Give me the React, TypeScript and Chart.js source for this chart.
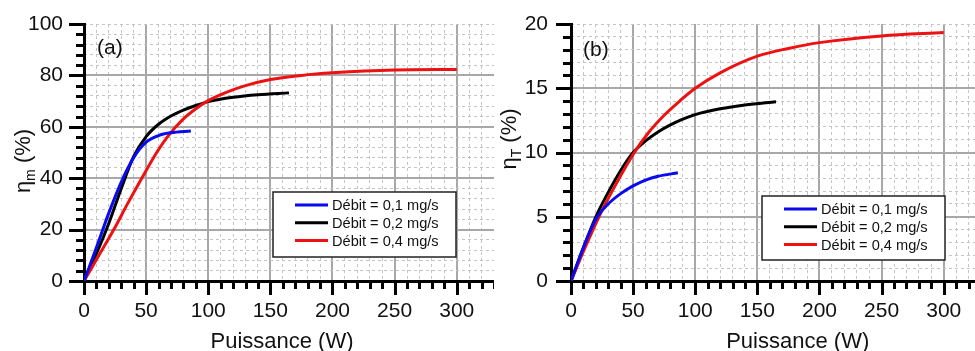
import React, { useEffect, useRef } from "react";
import { Chart, registerables } from "chart.js";

Chart.register(...registerables);

// ---------- Data ----------
const seriesLabels = ["Débit = 0,1 mg/s", "Débit = 0,2 mg/s", "Débit = 0,4 mg/s"];

const xMajorTicks = [0, 50, 100, 150, 200, 250, 300];
const xMinorTicks = [0, 10, 20, 30, 40, 50, 60, 70, 80, 90, 100, 110, 120, 130, 140, 150, 160, 170, 180, 190, 200, 210, 220, 230, 240, 250, 260, 270, 280, 290, 300, 310, 320, 330];

const yMajorTicksA = [0, 20, 40, 60, 80, 100];
const yMinorTicksA = [0, 4, 8, 12, 16, 20, 24, 28, 32, 36, 40, 44, 48, 52, 56, 60, 64, 68, 72, 76, 80, 84, 88, 92, 96, 100];
const yMajorTicksB = [0, 5, 10, 15, 20];
const yMinorTicksB = [0, 1, 2, 3, 4, 5, 6, 7, 8, 9, 10, 11, 12, 13, 14, 15, 16, 17, 18, 19, 20];

// (a) eta_m (%)
const powerBlueA = [0, 10, 20, 30, 40, 50, 60, 70, 86];
const etaBlueA = [0, 13, 26.5, 38.5, 48, 54, 56.6, 57.7, 58.4];
const powerBlackA = [0, 10, 20, 30, 40, 50, 60, 70, 80, 90, 100, 120, 140, 165];
const etaBlackA = [0, 10.6, 22.5, 36, 48.5, 56.2, 61, 64.2, 66.5, 68.3, 69.8, 71.5, 72.5, 73.2];
const powerRedA = [0, 12, 24, 35, 46.5, 58.5, 67, 79, 90, 100, 115, 130, 150, 175, 200, 250, 300];
const etaRedA = [0, 10, 20, 30, 40, 50, 56, 62.6, 67, 70.2, 73.5, 76, 78.4, 80, 81, 82.1, 82.3];

// (b) eta_T (%)
const powerBlueB = [0, 10, 20, 30, 40, 50, 60, 70, 86];
const etaBlueB = [0, 2.6, 4.8, 6.0, 6.8, 7.4, 7.85, 8.15, 8.42];
const powerBlackB = [0, 10, 20, 30, 40, 50, 60, 70, 80, 90, 100, 120, 140, 165];
const etaBlackB = [0, 2.6, 5, 6.9, 8.6, 10, 10.9, 11.6, 12.15, 12.6, 12.95, 13.4, 13.7, 13.95];
const powerRedB = [0, 10, 22.5, 36, 51, 62, 75, 88, 100, 120, 150, 175, 200, 250, 300];
const etaRedB = [0, 2.3, 5, 7.5, 10, 11.5, 12.9, 14.05, 15.0, 16.2, 17.5, 18.1, 18.55, 19.07, 19.33];

// ---------- Styles ----------
const FONT = "'Liberation Sans', Arial, sans-serif";
const COLORS = ["#0a0af0", "#000000", "#ee1111"];
const DRAW_ORDER = [0, 2, 1];
const MAJOR_TICK = 15;
const MINOR_TICK = 8;

const toPoints = (xs: number[], ys: number[]) => xs.map((x, i) => ({ x, y: ys[i] }));
const asTicks = (arr: number[]) => arr.map((v) => ({ value: v }));

const decorPlugin = {
  id: "decor",
  afterDraw(chart: any, _args: any, opts: any) {
    const ctx: CanvasRenderingContext2D = chart.ctx;
    const xs = chart.scales.x;
    const ys = chart.scales.y;
    const area = chart.chartArea;
    ctx.save();

    // axis tick marks (outward)
    ctx.strokeStyle = "#000";
    ctx.lineWidth = 3;
    ctx.lineCap = "butt";
    const drawX = (vals: number[], len: number) => {
      vals.forEach((v) => {
        const px = Math.round(xs.getPixelForValue(v)) + 0.5;
        ctx.beginPath();
        ctx.moveTo(px, area.bottom);
        ctx.lineTo(px, area.bottom + len);
        ctx.stroke();
      });
    };
    const drawY = (vals: number[], len: number) => {
      vals.forEach((v) => {
        const py = Math.round(ys.getPixelForValue(v)) + 0.5;
        ctx.beginPath();
        ctx.moveTo(area.left, py);
        ctx.lineTo(area.left - len, py);
        ctx.stroke();
      });
    };
    drawX(opts.xMinor, MINOR_TICK);
    drawX(opts.xMajor, MAJOR_TICK - 1);
    drawY(opts.yMinor, MINOR_TICK);
    drawY(opts.yMajor, MAJOR_TICK);

    ctx.fillStyle = "#111";

    // panel label
    ctx.font = `21px ${FONT}`;
    ctx.textAlign = "left";
    ctx.textBaseline = "alphabetic";
    ctx.fillText(opts.panel, opts.panelX, opts.panelY);

    // x title
    ctx.font = `22px ${FONT}`;
    ctx.textAlign = "center";
    ctx.fillText(opts.xTitle, opts.xTitleX, opts.xTitleY);

    // y title with subscript, rotated
    ctx.save();
    ctx.translate(opts.yTitleX, opts.yTitleY);
    ctx.rotate(-Math.PI / 2);
    ctx.textAlign = "left";
    const mainFont = `22px ${FONT}`;
    const subFont = `14px ${FONT}`;
    ctx.font = mainFont;
    const w1 = ctx.measureText(opts.yMain).width;
    const w3 = ctx.measureText(opts.yRest).width;
    ctx.font = subFont;
    const w2 = ctx.measureText(opts.ySub).width;
    let x0 = -(w1 + w2 + w3) / 2;
    ctx.font = mainFont;
    ctx.fillText(opts.yMain, x0, 0);
    x0 += w1;
    ctx.font = subFont;
    ctx.fillText(opts.ySub, x0, 5);
    x0 += w2;
    ctx.font = mainFont;
    ctx.fillText(opts.yRest, x0, 0);
    ctx.restore();

    // legend box
    const lg = opts.legend;
    ctx.fillStyle = "#ffffff";
    ctx.fillRect(lg.x, lg.y, lg.w, lg.h);
    ctx.strokeStyle = "#222";
    ctx.lineWidth = 1.5;
    ctx.strokeRect(lg.x, lg.y, lg.w, lg.h);
    ctx.font = `14.6px ${FONT}`;
    ctx.textAlign = "left";
    ctx.textBaseline = "middle";
    chart.data.datasets.forEach((ds: any, i: number) => {
      const yy = lg.y + lg.rowTop + i * lg.rowGap;
      ctx.strokeStyle = ds.borderColor;
      ctx.lineWidth = 3;
      ctx.beginPath();
      ctx.moveTo(lg.x + lg.lineX0, yy);
      ctx.lineTo(lg.x + lg.lineX1, yy);
      ctx.stroke();
      ctx.fillStyle = "#111";
      ctx.fillText(ds.label, lg.x + lg.textX, yy + 1);
    });
    ctx.restore();
  },
};

type PanelProps = {
  left: number;
  width: number;
  yAxisWidth: number;
  yLabelPad: number;
  yMax: number;
  yMajor: number[];
  yMinor: number[];
  series: { xs: number[]; ys: number[] }[];
  decor: any;
};

function Panel(p: PanelProps) {
  const ref = useRef<HTMLCanvasElement | null>(null);
  useEffect(() => {
    if (!ref.current) return;
    const xMajorSet = new Set(xMajorTicks);
    const yMajorSet = new Set(p.yMajor);
    const tickFont = { family: FONT, size: 21 };
    const chart = new Chart(ref.current, {
      type: "line",
      data: {
        datasets: p.series.map((s, i) => ({
          label: seriesLabels[i],
          data: toPoints(s.xs, s.ys),
          borderColor: COLORS[i],
          backgroundColor: COLORS[i],
          borderWidth: 3,
          pointRadius: 0,
          fill: false,
          cubicInterpolationMode: "monotone",
          order: DRAW_ORDER[i],
          xAxisID: "x",
          yAxisID: "y",
        })),
      },
      options: {
        responsive: false,
        animation: false,
        events: [],
        layout: { padding: { top: 24, left: 0, right: 0, bottom: 0 } },
        plugins: {
          legend: { display: false },
          tooltip: { enabled: false },
          decor: {
            ...p.decor,
            xMajor: xMajorTicks,
            xMinor: xMinorTicks,
            yMajor: p.yMajor,
            yMinor: p.yMinor,
          },
        } as any,
        scales: {
          x: {
            type: "linear",
            position: "bottom",
            min: 0,
            max: 330,
            weight: 0,
            afterBuildTicks: (s: any) => {
              s.ticks = asTicks(xMajorTicks);
            },
            afterFit: (s: any) => {
              s.height = 70;
            },
            ticks: { font: tickFont, color: "#111", padding: 4, autoSkip: false, maxRotation: 0 },
            grid: {
              color: "#a8a8a8",
              lineWidth: 2,
              drawTicks: true,
              tickLength: 14,
              tickColor: "rgba(0,0,0,0)",
            },
            border: { display: true, color: "#000", width: 3 },
          },
          xMinor: {
            type: "linear",
            position: "bottom",
            min: 0,
            max: 330,
            weight: -1,
            afterBuildTicks: (s: any) => {
              s.ticks = asTicks(xMinorTicks);
            },
            afterFit: (s: any) => {
              s.height = 0;
            },
            ticks: { display: false },
            grid: {
              color: (c: any) => (xMajorSet.has(c.tick?.value) ? "rgba(0,0,0,0)" : "#c4c4c4"),
              lineWidth: 1,
              drawTicks: false,
            },
            border: { display: false, dash: [3, 3] },
          },
          y: {
            type: "linear",
            position: "left",
            min: 0,
            max: p.yMax,
            weight: 0,
            afterBuildTicks: (s: any) => {
              s.ticks = asTicks(p.yMajor);
            },
            afterFit: (s: any) => {
              s.width = p.yAxisWidth;
            },
            ticks: { font: tickFont, color: "#111", padding: p.yLabelPad, autoSkip: false },
            grid: {
              color: (c: any) => (c.tick?.value === p.yMax ? "rgba(0,0,0,0)" : "#a8a8a8"),
              lineWidth: 2,
              drawTicks: true,
              tickLength: MAJOR_TICK,
              tickColor: "rgba(0,0,0,0)",
            },
            border: { display: true, color: "#000", width: 3 },
          },
          yMinor: {
            type: "linear",
            position: "left",
            min: 0,
            max: p.yMax,
            weight: -1,
            afterBuildTicks: (s: any) => {
              s.ticks = asTicks(p.yMinor);
            },
            afterFit: (s: any) => {
              s.width = 0;
            },
            ticks: { display: false },
            grid: {
              color: (c: any) =>
                yMajorSet.has(c.tick?.value) && c.tick?.value !== p.yMax ? "rgba(0,0,0,0)" : "#c4c4c4",
              lineWidth: 1,
              drawTicks: false,
            },
            border: { display: false, dash: [3, 3] },
          },
        } as any,
      },
      plugins: [decorPlugin as any],
    });
    return () => chart.destroy();
  }, []);
  return (
    <canvas
      ref={ref}
      width={p.width}
      height={351}
      style={{ position: "absolute", left: p.left, top: 0, width: p.width, height: 351 }}
    />
  );
}

export default function App() {
  return (
    <div
      style={{
        position: "absolute",
        left: 0,
        top: 0,
        width: 975,
        height: 351,
        overflow: "hidden",
        background: "#ffffff",
      }}
    >
      <Panel
        left={0}
        width={494}
        yAxisWidth={84}
        yLabelPad={6}
        yMax={100}
        yMajor={yMajorTicksA}
        yMinor={yMinorTicksA}
        series={[
          { xs: powerBlueA, ys: etaBlueA },
          { xs: powerBlackA, ys: etaBlackA },
          { xs: powerRedA, ys: etaRedA },
        ]}
        decor={{
          panel: "(a)",
          panelX: 97,
          panelY: 54,
          xTitle: "Puissance (W)",
          xTitleX: 282,
          xTitleY: 348,
          yMain: "η",
          ySub: "m",
          yRest: " (%)",
          yTitleX: 29.5,
          yTitleY: 161,
          legend: { x: 273, y: 192, w: 183, h: 65, rowTop: 13, rowGap: 17.8, lineX0: 22, lineX1: 55, textX: 59 },
        }}
      />
      <Panel
        left={495}
        width={486}
        yAxisWidth={76}
        yLabelPad={8}
        yMax={20}
        yMajor={yMajorTicksB}
        yMinor={yMinorTicksB}
        series={[
          { xs: powerBlueB, ys: etaBlueB },
          { xs: powerBlackB, ys: etaBlackB },
          { xs: powerRedB, ys: etaRedB },
        ]}
        decor={{
          panel: "(b)",
          panelX: 88,
          panelY: 55.5,
          xTitle: "Puissance (W)",
          xTitleX: 302.7,
          xTitleY: 348,
          yMain: "η",
          ySub: "T",
          yRest: " (%)",
          yTitleX: 20.5,
          yTitleY: 139,
          legend: { x: 267, y: 196, w: 183, h: 64, rowTop: 13, rowGap: 17.8, lineX0: 22, lineX1: 55, textX: 59 },
        }}
      />
    </div>
  );
}
